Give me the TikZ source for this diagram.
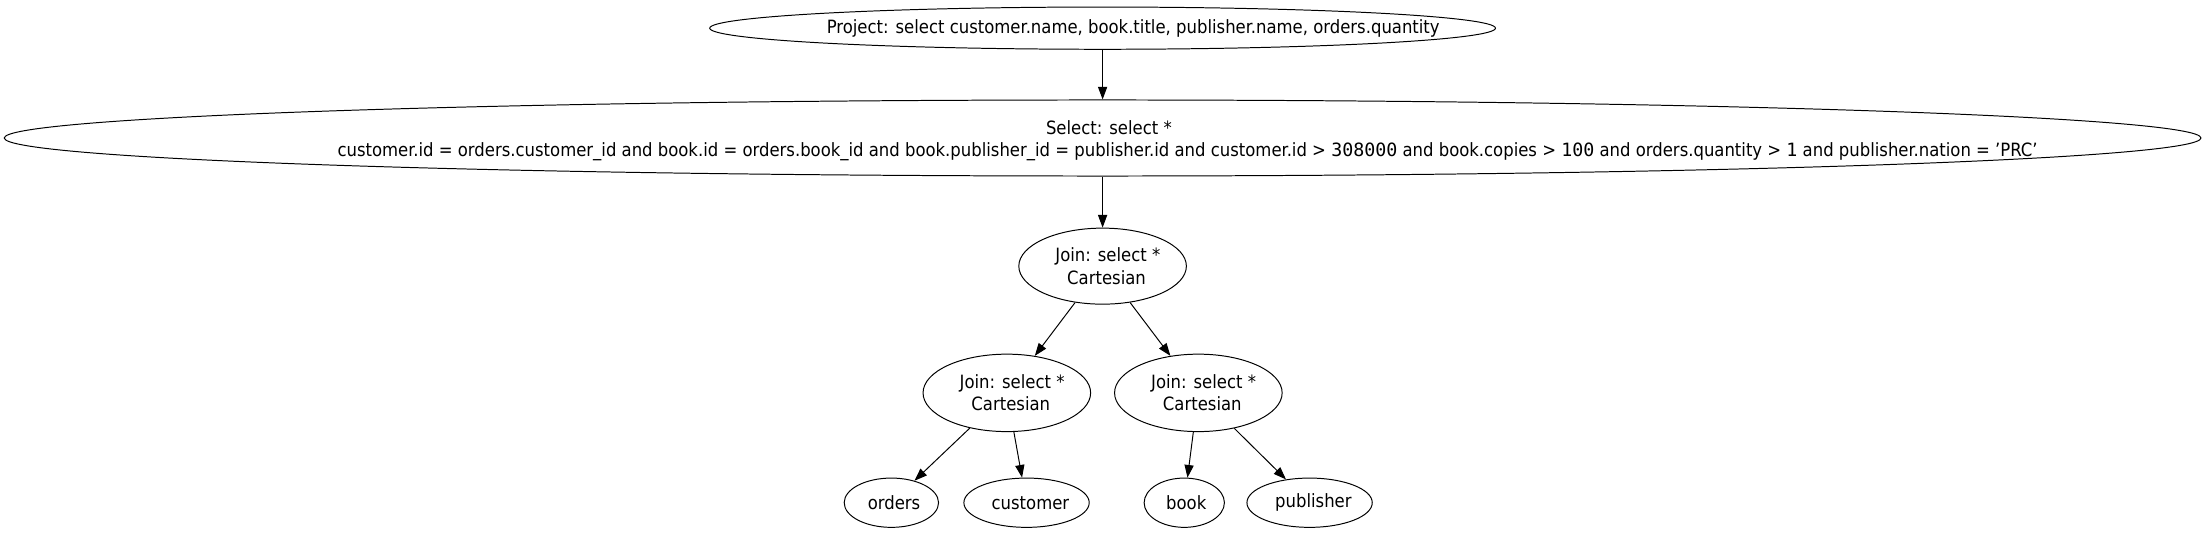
\documentclass[tikz,border=0pt]{standalone}
\usepackage{fontspec}
\setmainfont{DejaVuSansCondensed}[Extension=.ttf, Ligatures=ResetAll]
\newfontfamily\dig{DejaVu Sans Mono}
\usetikzlibrary{shapes.geometric,arrows.meta}
\newlength\gvw
\newcommand\gvline[1]{\setbox0\hbox{#1}\gvw=1.1\wd0\hbox to \gvw{\hfill\copy0}}
\tikzset{
  nd/.style={draw, ellipse, inner sep=0pt, line width=0.7pt},
  lbl/.style={inner sep=0pt, align=center, font=\fontsize{13}{16}\selectfont},
  ar/.style={draw, line width=0.7pt, -{Triangle[length=9pt,width=6.5pt]}}
}
\begin{document}
\begin{tikzpicture}[x=1pt,y=-1pt]
\useasboundingbox (0,0) rectangle (1568,379);
\node[nd, minimum width=558pt, minimum height=30pt,
  label={[lbl]center:\gvline{Project: select customer.name, book.title, publisher.name, orders.quantity}}] (proj) at (783,20) {};
\node[nd, minimum width=1560pt, minimum height=54pt,
  label={[lbl, yshift=-2pt]center:{\gvline{Select: select *}\\\gvline{customer.id = orders.customer\_id and book.id = orders.book\_id and book.publisher\_id = publisher.id and customer.id > {\dig 308000} and book.copies > {\dig 100} and orders.quantity > {\dig 1} and publisher.nation = 'PRC'}}}] (sel) at (783,98) {};
\node[nd, minimum width=119pt, minimum height=54pt, label={[lbl]center:{\gvline{Join: select *}\\\gvline{Cartesian}}}] (j0) at (783,189) {};
\node[nd, minimum width=119pt, minimum height=55pt, label={[lbl]center:{\gvline{Join: select *}\\\gvline{Cartesian}}}] (j1) at (715,279) {};
\node[nd, minimum width=119pt, minimum height=55pt, label={[lbl]center:{\gvline{Join: select *}\\\gvline{Cartesian}}}] (j2) at (851,279) {};
\node[nd, minimum width=67pt, minimum height=35pt, label={[lbl]center:\gvline{orders}}] (orders) at (633,357) {};
\node[nd, minimum width=89pt, minimum height=35pt, label={[lbl]center:\gvline{customer}}] (customer) at (729,357) {};
\node[nd, minimum width=57pt, minimum height=35pt, label={[lbl]center:\gvline{book}}] (book) at (841,357) {};
\node[nd, minimum width=89pt, minimum height=35pt, label={[lbl]center:\gvline{publisher}}] (publisher) at (930,357) {};
\path[ar] (proj) -- (sel);
\path[ar] (sel) -- (j0);
\path[ar] (j0) -- (j1);
\path[ar] (j0) -- (j2);
\path[ar] (j1) -- (orders);
\path[ar] (j1) -- (customer);
\path[ar] (j2) -- (book);
\path[ar] (j2) -- (publisher);
\end{tikzpicture}
\end{document}
